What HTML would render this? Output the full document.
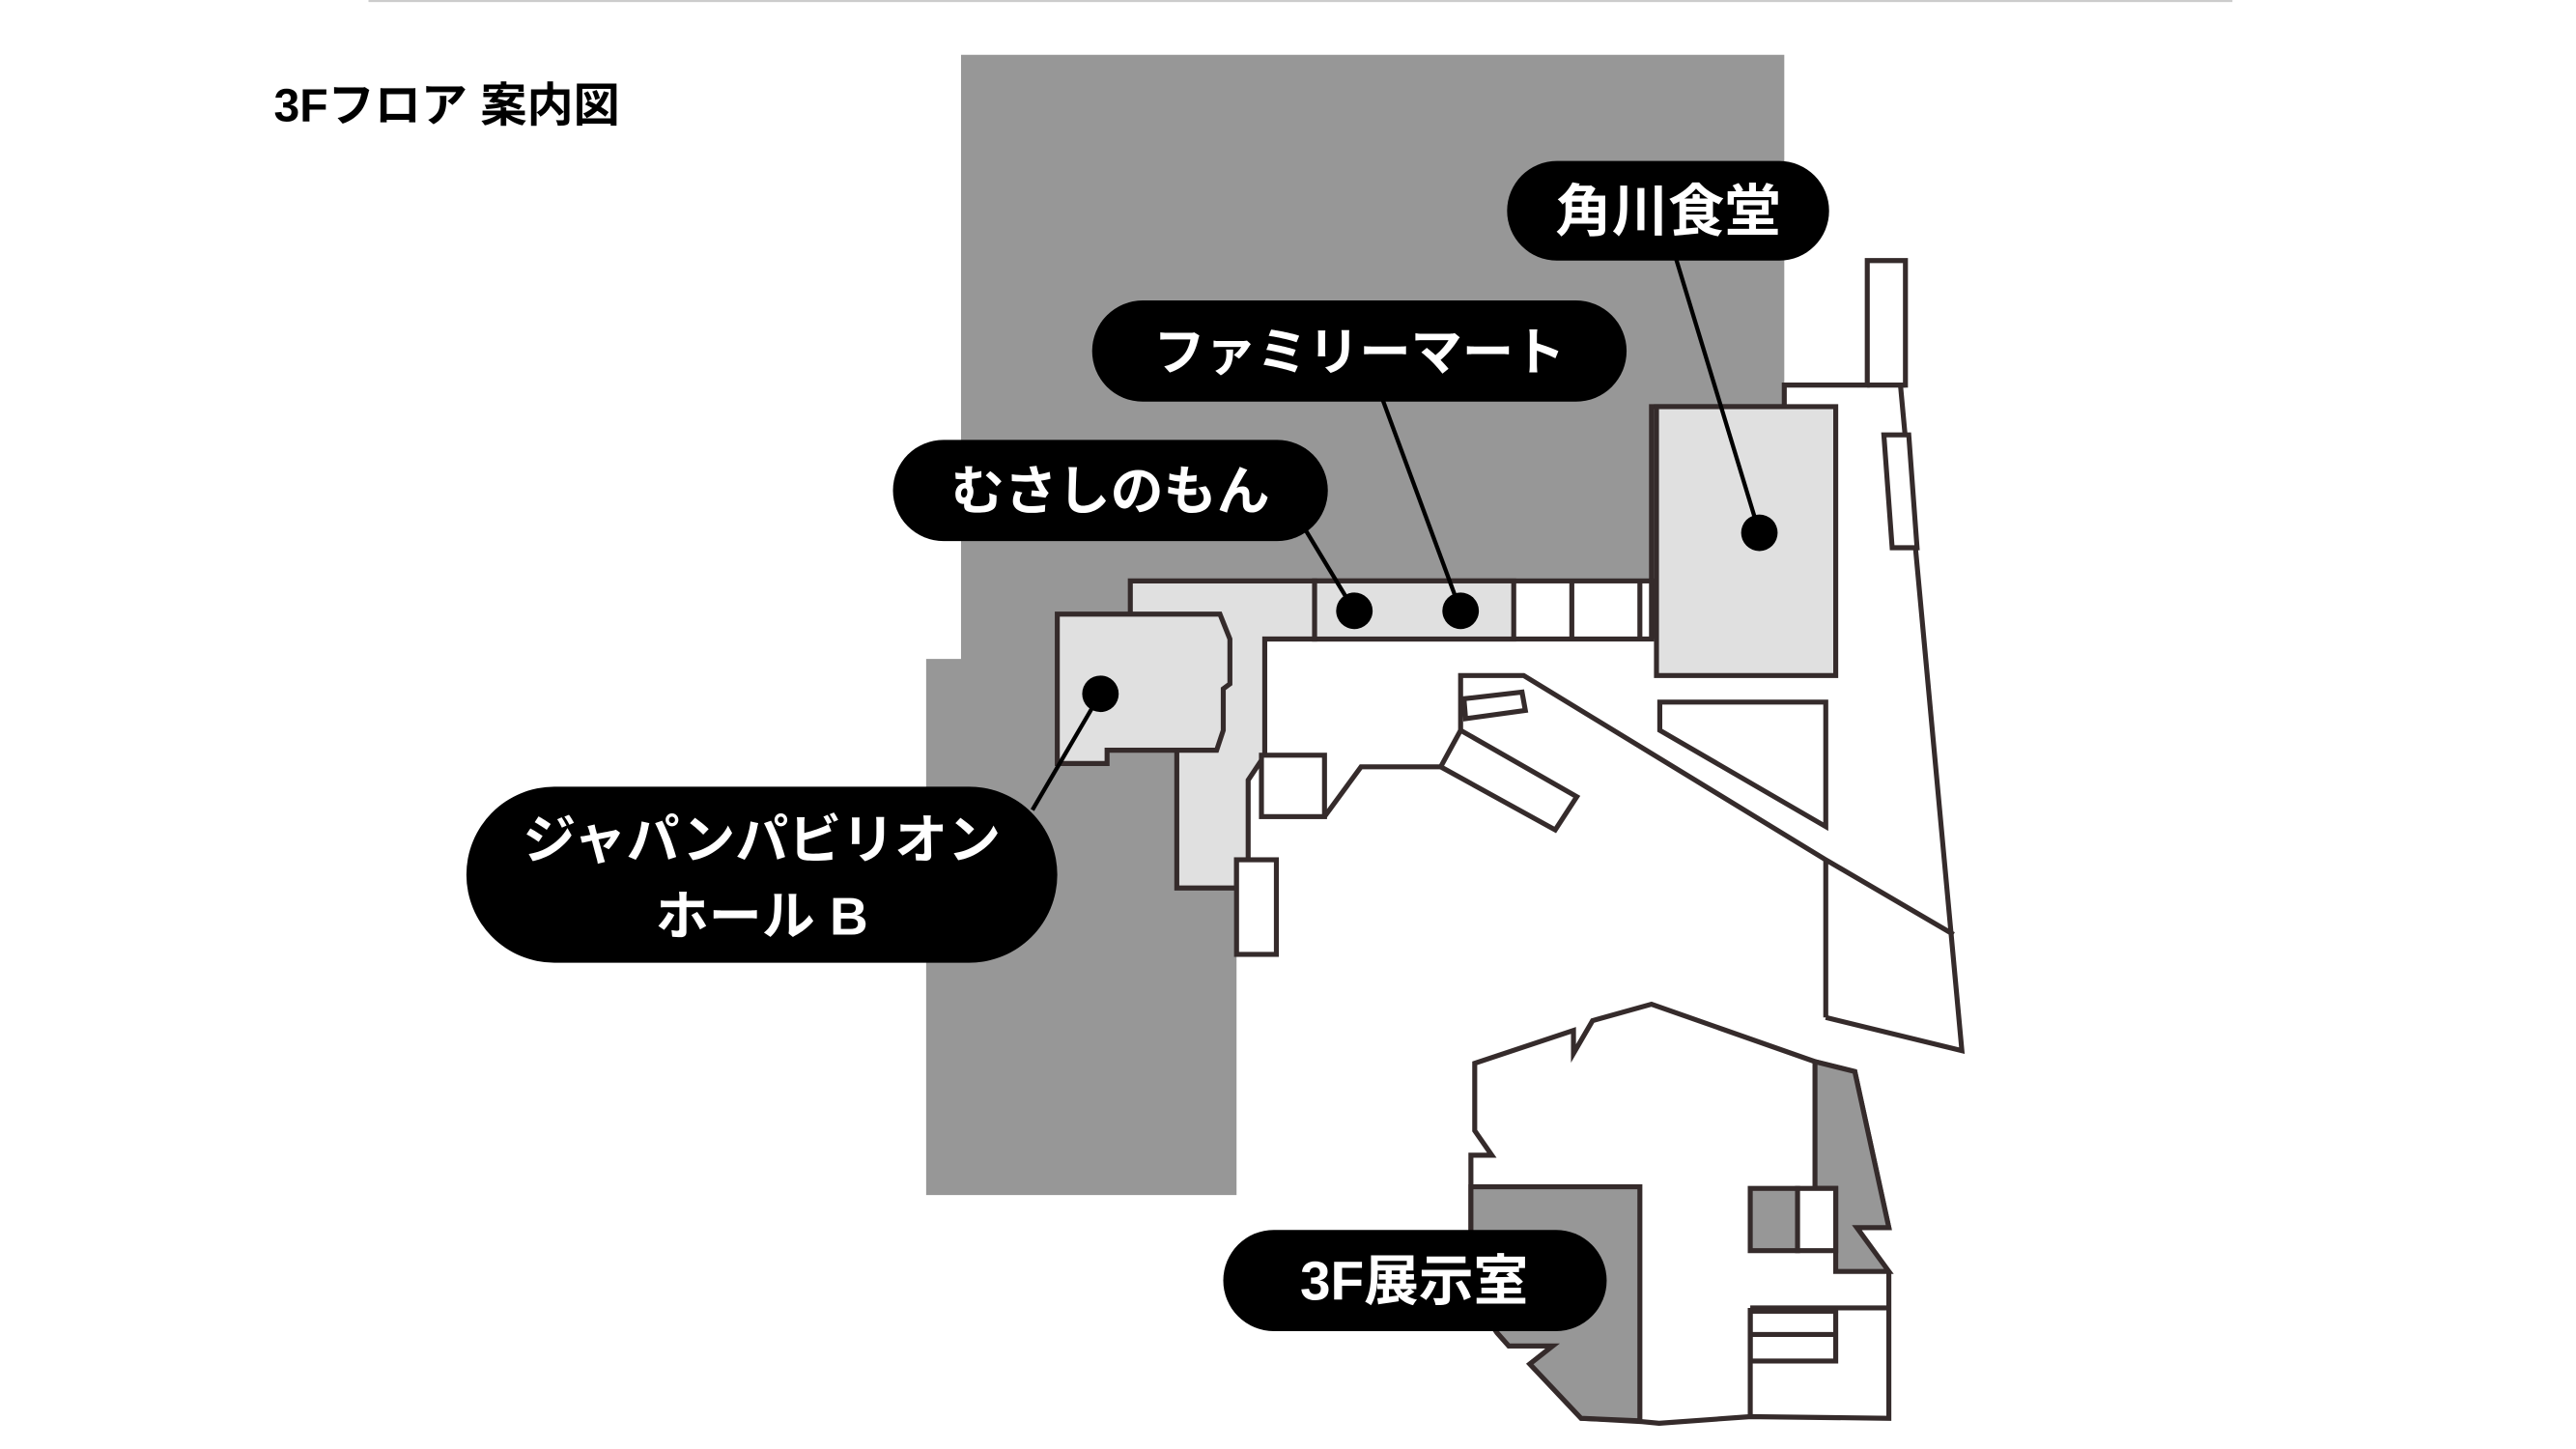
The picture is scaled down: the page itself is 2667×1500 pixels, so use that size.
<!DOCTYPE html>
<html><head><meta charset="utf-8"><style>
html,body{margin:0;padding:0;background:#fff;}
svg{display:block;}
text{font-family:"Liberation Sans","Noto Sans CJK JP",sans-serif;font-weight:bold;}
</style></head><body>
<svg width="2667" height="1500" viewBox="0 0 1552 873" preserveAspectRatio="none" xmlns="http://www.w3.org/2000/svg">
<line x1="222" y1="0.5" x2="1345" y2="0.5" stroke="#ccc" stroke-width="1.5"/>
<text x="165" y="73" font-size="28" fill="#000">3Fフロア 案内図</text>
<polygon points="579,33 1075,33 1075,350 745,350 745,720 558,720 558,397 579,397" fill="#979797"/>
<g stroke="#352b2b" stroke-width="3" stroke-linejoin="miter">
<polygon points="762,385 995,385 995,245 1075,245 1075,232 1125,232 1125,157 1148,157 1148,232 1145,232 1182,633 1100,613 1100,700 760,700 752,470 762,455" fill="#fff" stroke="none"/>
<polyline points="995,385 995,245 1075,245 1075,232 1125,232 1125,157 1148,157 1148,232 1145,232 1182,633 1100,613" fill="none"/>
<line x1="1125" y1="232" x2="1148" y2="232"/>
<rect x="792" y="350" width="203" height="35" fill="#fff"/>
<rect x="792" y="350" width="120" height="35" fill="#e0e0e0"/>
<line x1="947" y1="350" x2="947" y2="385"/>
<line x1="988" y1="350" x2="988" y2="385"/>
<polygon points="681,350 792,350 792,385 762,385 762,455 752,470 752,518 745,518 745,535 709,535 709,385 681,385" fill="#e0e0e0"/>
<polygon points="637,370 735,370 741,385 741,412 737,415 737,440 733,452 667,452 667,460 637,460" fill="#e0e0e0"/>
<rect x="745" y="518" width="24" height="57" fill="#fff"/>
<rect x="760" y="455" width="38" height="37" fill="#fff"/>
<polyline points="798,492 820,462 868,462" fill="none"/>
<polygon points="868,462 880,440 950,480 937,500" fill="#fff"/>
<polyline points="880,440 880,407 918,407 1100,518 1177,563" fill="none"/>
<polygon points="882,421 917,417 919,428 883,433" fill="#fff"/>
<line x1="1100" y1="518" x2="1100" y2="613"/>
<polygon points="1000,423 1100,423 1100,498 1000,440" fill="#fff"/>
<rect x="998" y="245" width="108" height="162" fill="#e0e0e0"/>
<polygon points="1135,262 1150,262 1155,330 1140,330" fill="#fff"/>
<polygon points="888.5,640.6 948,620.8 948,634.7 959.5,614.9 995,605 1093.5,639.6 1117.5,645.6 1138,739.6 1118.7,739.6 1138,766.4 1138,854.5 1054.5,853.5 999.6,857.5 989.3,856.5 952.6,854.5 921.7,821.8 935.5,810.9 909,810.9 902,803 886.2,780 886.2,696 898.8,696 888.5,681.2" fill="#fff"/>
<polygon points="886.2,715 988,715 988,856 952.6,854.5 921.7,821.8 935.5,810.9 909,810.9 902,803 886.2,780" fill="#979797"/>
<polygon points="1093.5,639.6 1117.5,645.6 1138,739.6 1118.7,739.6 1138,766 1106,766 1106,716 1093.5,716" fill="#979797"/>
<rect x="1054.5" y="716" width="28.5" height="37.5" fill="#979797"/>
<rect x="1083" y="716" width="23" height="37.5" fill="#fff"/>
<line x1="1054.5" y1="788" x2="1138" y2="788"/>
<rect x="1054.5" y="790" width="51.5" height="30" fill="#fff"/>
<line x1="1054.5" y1="804" x2="1106" y2="804"/>
<line x1="1054.5" y1="788" x2="1054.5" y2="853.5"/>
</g>
<g stroke="#000" stroke-width="2.5">
<line x1="1008" y1="150" x2="1060" y2="321"/>
<line x1="832" y1="238" x2="880" y2="368"/>
<line x1="787" y1="320" x2="816" y2="368"/>
<line x1="622" y1="488" x2="663" y2="418"/>
</g>
<g fill="#000">
<circle cx="816" cy="368" r="11"/><circle cx="880" cy="368" r="11"/>
<circle cx="1060" cy="321" r="11"/><circle cx="663" cy="418" r="11"/>
<rect x="908" y="97" width="194" height="60" rx="30"/>
<rect x="658" y="181" width="322" height="61" rx="30.5"/>
<rect x="538" y="265" width="262" height="61" rx="30.5"/>
<rect x="281" y="474" width="356" height="106" rx="53"/>
<rect x="737" y="741" width="231" height="61" rx="30.5"/>
</g>
<g fill="#fff" text-anchor="middle">
<text x="1005" y="139" font-size="34">角川食堂</text>
<text x="819" y="223" font-size="31">ファミリーマート</text>
<text x="669" y="307" font-size="32">むさしのもん</text>
<text x="459" y="517" font-size="32">ジャパンパビリオン</text>
<text x="459" y="563" font-size="32">ホール B</text>
<text x="852" y="783" font-size="33">3F展示室</text>
</g>
</svg>
</body></html>
